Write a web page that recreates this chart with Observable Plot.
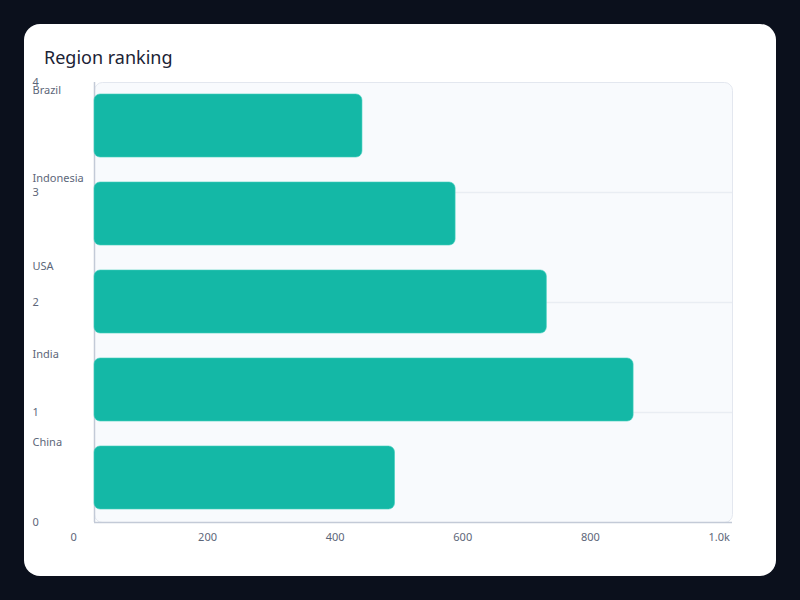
<!DOCTYPE html>
<html>
<head>
<meta charset="utf-8">
<script src="https://cdn.jsdelivr.net/npm/d3@7"></script>
<script src="https://cdn.jsdelivr.net/npm/@observablehq/plot@0.6"></script>
<style>
  html, body { margin: 0; padding: 0; width: 800px; height: 600px; overflow: hidden; background: #0b101c; font-family: "Noto Sans", sans-serif; }
  #card { position: absolute; left: 24px; top: 24px; width: 752px; height: 552px; background: #ffffff; border-radius: 16px; overflow: hidden; }
  #title { position: absolute; left: 20px; top: 24px; font-size: 18px; line-height: 18px; color: #1b2335; white-space: nowrap; }
  .layer { position: absolute; left: 0; top: 0; }
  .layer svg { display: block; }
</style>
</head>
<body>
<div id="card">
  <div id="title">Region ranking</div>
  <div id="a" class="layer"></div>
  <div id="b" class="layer"></div>
</div>
<script>
// Data (top to bottom)
const regions = ["Brazil", "Indonesia", "USA", "India", "China"];
const values = [420, 566, 709, 845, 471];
const xTicks = [0, 200, 400, 600, 800, 1000];
const xTickLabels = ["0", "200", "400", "600", "800", "1.0k"];
const yTicks = [0, 1, 2, 3, 4];
const yTickLabels = ["0", "1", "2", "3", "4"];

const data = regions.map((r, i) => ({region: r, value: values[i]}));

const W = 752, H = 552;
const common = {
  width: W, height: H,
  marginLeft: 70, marginRight: 44, marginTop: 58, marginBottom: 54,
  style: {background: "transparent", fontFamily: '"Noto Sans", sans-serif', fontSize: "11px", color: "#5d6679", overflow: "visible"}
};
const labelColor = "#5d6679";

const plotA = Plot.plot({
  ...common,
  x: {domain: [xTicks[0], xTicks[xTicks.length - 1]], label: null},
  y: {domain: [yTicks[0], yTicks[yTicks.length - 1]], label: null},
  marks: [
    Plot.frame({fill: "#f8fafd", stroke: "#e3e7ef", rx: 8}),
    Plot.gridY(yTicks.filter(t => t > yTicks[0] && t < yTicks[yTicks.length - 1]), {stroke: "#e9edf3", strokeOpacity: 1, strokeWidth: 1.5}),
    Plot.ruleX([xTicks[0]], {stroke: "#c3cad7", strokeWidth: 1.5}),
    Plot.ruleY([yTicks[0]], {stroke: "#c3cad7", strokeWidth: 1.5}),
    Plot.axisY(yTicks, {tickSize: 0, tickPadding: 0, textAnchor: "start", dx: -62, fill: labelColor, label: null,
      tickFormat: d => yTickLabels[yTicks.indexOf(d)]}),
    Plot.axisX(xTicks, {tickSize: 0, tickPadding: 11, textAnchor: "start", dx: -24, fill: labelColor, label: null,
      tickFormat: d => xTickLabels[xTicks.indexOf(d)]})
  ]
});
document.getElementById("a").appendChild(plotA);

const plotB = Plot.plot({
  ...common,
  x: {domain: [xTicks[0], xTicks[xTicks.length - 1]], axis: null},
  y: {domain: regions, paddingInner: 0.28, paddingOuter: 0.14, label: null},
  marks: [
    Plot.barX(data, {x: "value", y: "region", fill: "#14b8a6", stroke: "#3fcfbd", strokeWidth: 1, strokeOpacity: 0.6, rx: 6}),
    Plot.axisY({tickSize: 0, tickPadding: 0, textAnchor: "start", dx: -62, dy: -36, fill: labelColor, label: null})
  ]
});
document.getElementById("b").appendChild(plotB);
</script>
</body>
</html>
